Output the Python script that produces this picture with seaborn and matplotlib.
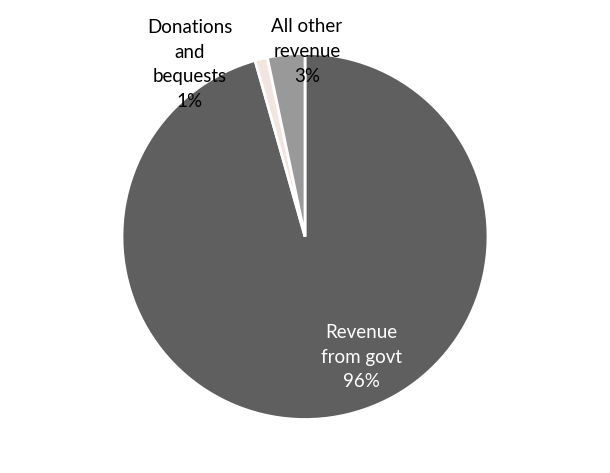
import matplotlib
matplotlib.use('Agg')
import matplotlib.pyplot as plt
import seaborn as sns

# revenue split (clockwise from 12 o'clock), % of total
labels = ['Revenue\nfrom govt', 'Donations\nand\nbequests', 'All other\nrevenue']
shares = [95.6, 1.1, 3.3]
colors = ['#5f5f5f', '#f2e4de', '#999999']
text_colors = ['white', 'black', 'black']
# where each label sits, in units of pie radius
label_pos = [(0.31, -0.66), (-0.63, 0.94), (0.01, 1.01)]

sns.set_style('white')
plt.rcParams['font.family'] = ['Lato', 'DejaVu Sans']

fig = plt.figure(figsize=(6.1, 4.73), dpi=100)
ax = fig.add_axes([0, 0, 1, 1])

wedges, _ = ax.pie(shares, colors=colors, startangle=90, counterclock=False,
                   radius=1.0, wedgeprops={'edgecolor': 'white', 'linewidth': 2})

for lab, val, c, (x, y) in zip(labels, shares, text_colors, label_pos):
    ax.text(x, y, f'{lab}\n{val:.0f}%', ha='center', va='center', color=c,
            fontsize=13.5, linespacing=1.55)

ax.set_aspect('auto')
ax.set_xlim(-305 / 183, 305 / 183)
ax.set_ylim(-236.5 / 183, 236.5 / 183)
ax.axis('off')

fig.savefig('out.png', dpi=100)
